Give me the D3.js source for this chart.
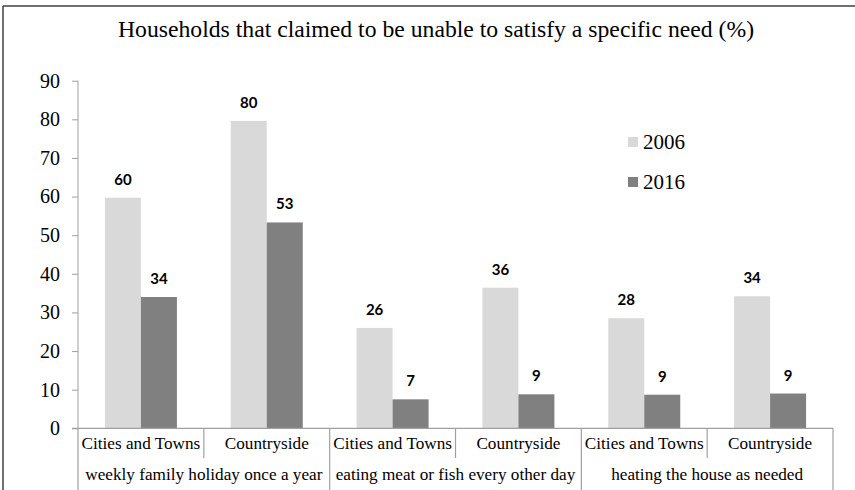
<!DOCTYPE html>
<html>
<head>
<meta charset="utf-8">
<script src="https://cdn.jsdelivr.net/npm/d3@7"></script>
<style>
  html, body { margin: 0; padding: 0; background: #fff; }
  svg { display: block; }
</style>
</head>
<body>
<svg id="chart" width="855" height="490"></svg>
<script>
const title = "Households that claimed to be unable to satisfy a specific need (%)";
const groups = ["weekly family holiday once a year", "eating meat or fish every other day", "heating the house as needed"];
const categories = ["Cities and Towns", "Countryside", "Cities and Towns", "Countryside", "Cities and Towns", "Countryside"];
const seriesNames = ["2006", "2016"];
const values2006 = [59.7, 79.6, 26.0, 36.4, 28.5, 34.2];
const values2016 = [34.0, 53.3, 7.5, 8.8, 8.7, 9.0];
const labels2006 = ["60", "80", "26", "36", "28", "34"];
const labels2016 = ["34", "53", "7", "9", "9", "9"];
const yTicks = [0, 10, 20, 30, 40, 50, 60, 70, 80, 90];

const colors = ["#d9d9d9", "#808080"];
const axisColor = "#a0a0a0";
const serif = "'Liberation Serif', 'Times New Roman', serif";

const svg = d3.select("#chart");

// outer frame (top and left edges visible)
svg.append("line").attr("x1", 3).attr("x2", 855).attr("y1", 6).attr("y2", 6)
  .attr("stroke", "#404040").attr("stroke-width", 1.5);
svg.append("line").attr("x1", 3).attr("x2", 3).attr("y1", 6).attr("y2", 490)
  .attr("stroke", "#404040").attr("stroke-width", 1.5);

const x0 = 78, x1 = 833, yTop = 80.7, yBase = 428.3;

const idx = d3.range(categories.length);
const x = d3.scaleBand().domain(idx).range([x0, x1]).paddingInner(0).paddingOuter(0);
const bw = 36;
const xs = d3.scaleBand().domain(seriesNames).range([0, bw * 2]);
const y = d3.scaleLinear().domain([0, 90]).range([yBase, yTop]);

// title
svg.append("text").attr("x", 436).attr("y", 37).attr("text-anchor", "middle")
  .attr("font-family", serif).attr("font-size", 23.7).attr("fill", "#000").text(title);

// y axis
const yAxis = svg.append("g").attr("transform", `translate(${x0},0)`)
  .call(d3.axisLeft(y).tickValues(yTicks).tickSize(6).tickPadding(12).tickFormat(d3.format("d")));
yAxis.select(".domain").attr("stroke", axisColor).attr("d", `M0,${yTop}V${yBase}`);
yAxis.selectAll(".tick line").attr("stroke", axisColor);
yAxis.selectAll(".tick text").attr("font-family", serif).attr("font-size", 20).attr("fill", "#000");

// bars
const data = idx.flatMap(i => [
  { i, s: "2006", v: values2006[i], l: labels2006[i], c: colors[0] },
  { i, s: "2016", v: values2016[i], l: labels2016[i], c: colors[1] }
]);
const offset = (x.bandwidth() - bw * 2) / 2;
svg.append("g").selectAll("rect").data(data).join("rect")
  .attr("x", d => x(d.i) + offset + xs(d.s))
  .attr("width", xs.bandwidth())
  .attr("y", d => y(d.v))
  .attr("height", d => y(0) - y(d.v))
  .attr("fill", d => d.c);

svg.append("g").selectAll("text").data(data).join("text")
  .attr("x", d => x(d.i) + offset + xs(d.s) + xs.bandwidth() / 2)
  .attr("y", d => y(d.v) - 13)
  .attr("text-anchor", "middle")
  .attr("font-family", "Lato, 'Open Sans', sans-serif")
  .attr("font-weight", "bold").attr("font-size", 15).attr("fill", "#000")
  .text(d => d.l);

// x axis line
svg.append("line").attr("x1", 72).attr("x2", x1).attr("y1", yBase).attr("y2", yBase)
  .attr("stroke", axisColor).attr("stroke-width", 1.2);

// separators
idx.concat([categories.length]).forEach(i => {
  const xp = i < categories.length ? x(i) : x1;
  const major = i % 2 === 0;
  svg.append("line").attr("x1", xp).attr("x2", xp).attr("y1", yBase)
    .attr("y2", major ? 490 : 458).attr("stroke", axisColor).attr("stroke-width", 1.2);
});

// category labels
svg.append("g").selectAll("text").data(idx).join("text")
  .attr("x", i => x(i) + x.bandwidth() / 2).attr("y", 449)
  .attr("text-anchor", "middle").attr("font-family", serif).attr("font-size", 17.2).attr("fill", "#000")
  .text(i => categories[i]);

svg.append("g").selectAll("text").data(groups).join("text")
  .attr("x", (d, g) => x(g * 2) + x.bandwidth())
  .attr("y", 480)
  .attr("text-anchor", "middle").attr("font-family", serif).attr("font-size", 17.2).attr("fill", "#000")
  .text(d => d);

// legend
const legend = svg.append("g").selectAll("g").data(seriesNames).join("g")
  .attr("transform", (d, k) => `translate(628,${142 + k * 40})`);
legend.append("rect").attr("x", 0).attr("y", -5).attr("width", 10).attr("height", 10)
  .attr("fill", (d, k) => colors[k]);
legend.append("text").attr("x", 15).attr("y", 7).attr("font-family", serif).attr("font-size", 21)
  .attr("fill", "#000").text(d => d);
</script>
</body>
</html>
